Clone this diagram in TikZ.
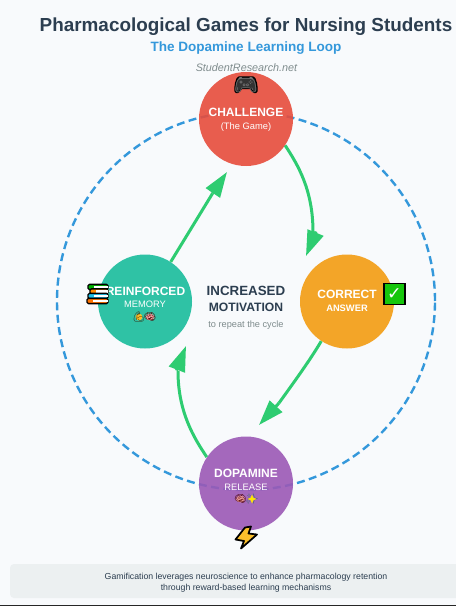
\documentclass[tikz,border=0pt]{standalone}
\usepackage{fontspec}
\setmainfont{Liberation Sans}
\newfontfamily\emojifont{Noto Emoji}
\newfontfamily\checkfont{DejaVu Sans}
\usetikzlibrary{arrows.meta}
\definecolor{bg}{HTML}{F8FAFC}
\definecolor{ink}{HTML}{2C3E50}
\definecolor{blue}{HTML}{3498DB}
\definecolor{gray1}{HTML}{7F8C8D}
\definecolor{flowgreen}{HTML}{2ECC71}
\definecolor{cred}{HTML}{E74C3C}
\definecolor{corange}{HTML}{F39C12}
\definecolor{cpurple}{HTML}{9B59B6}
\definecolor{cteal}{HTML}{1ABC9C}
\definecolor{foot}{HTML}{ECF0F1}
\definecolor{boltc}{HTML}{FBBF2B}
\definecolor{checkc}{HTML}{16C60C}
\newcommand{\fs}[1]{\fontsize{#1}{#1}\selectfont}
\tikzset{
  x=0.75pt,y=-0.75pt,
  stage/.style={circle,minimum size=70.5pt,inner sep=0pt,fill opacity=0.9,draw=none},
  shaft/.style={draw=flowgreen,line width=2.25pt},
  flowhead/.style={draw=flowgreen,line width=2.25pt,-{Triangle[length=19pt,width=12.5pt]}},
  head/.style={text=white,font=\bfseries\fs{9},inner sep=0pt},
  sub/.style={text=white,font=\fs{7},inner sep=0pt},
  small/.style={font=\emojifont\fs{7.5},inner sep=0pt},
  emo/.style={font=\emojifont\fs{14.5},inner sep=0pt},
  centre/.style={text=ink,font=\bfseries\fs{10},inner sep=0pt},
  outl/.style={draw=black,line width=1pt,line join=round},
}
\begin{document}
\begin{tikzpicture}
\useasboundingbox (0,0) rectangle (456,606);
\fill[bg] (0,0) rectangle (456,606);
\node[text=ink,font=\bfseries\fs{14.17},inner sep=0pt] (title) at (246,26.5) {Pharmacological Games for Nursing Students};
\node[text=blue,font=\bfseries\fs{10.15},inner sep=0pt] (subtitle) at (246,48.5) {The Dopamine Learning Loop};
\node[text=gray1,font=\itshape\fs{8.1},inner sep=0pt] (mark) at (246.5,68) {StudentResearch.net};
% dashed loop
\node[circle,minimum size=283.5pt,inner sep=0pt,draw=blue,line width=1.8pt,dash pattern=on 6pt off 3.3pt] (loop) at (246,301) {};
% stages
\node[stage,fill=cred] (challenge) at (246,119) {};
\node[stage,fill=corange] (correct) at (347,301.5) {};
\node[stage,fill=cpurple] (dopamine) at (246,483.5) {};
\node[stage,fill=cteal] (memory) at (145,301.5) {};
% arrow bases and tips
\coordinate (b1) at (316,231.5);
\coordinate (t1) at (306,256);
\coordinate (b2) at (279,403);
\coordinate (t2) at (259,425);
\coordinate (b3) at (176.5,370.5);
\coordinate (t3) at (186,346);
\coordinate (b4) at (212.5,193.5);
\coordinate (t4) at (227,172);
\draw[shaft] (challenge.-34) .. controls (298,165) and (313,190) .. (313,232);
\draw[flowhead] (b1) -- (t1);
\draw[shaft] (correct.-123) .. controls (310,360) and (297,378) .. (b2);
\draw[flowhead] (b2) -- (t2);
\draw[shaft] (dopamine.146) .. controls (194,438) and (178,412) .. (178,371);
\draw[flowhead] (b3) -- (t3);
\draw[shaft] (memory.57) -- (b4);
\draw[flowhead] (b4) -- (t4);
% labels
\node[head] (l1) at (246,112.5) {CHALLENGE};
\node[sub] (l1b) at (246,127.5) {(The Game)};
\node[head] (l2) at (347,294) {CORRECT};
\node[sub,font=\bfseries\fs{7}] (l2b) at (347,308.5) {ANSWER};
\node[head] (l3) at (246,473) {DOPAMINE};
\node[sub] (l3b) at (246,487) {RELEASE};
\node[head] (l4) at (145.5,291) {REINFORCED};
\node[sub] (l4b) at (145,304.5) {MEMORY};
\node[centre] (c1) at (246,290.5) {INCREASED};
\node[centre,font=\bfseries\fs{9.1}] (c2) at (246,307.5) {MOTIVATION};
\node[text=gray1,font=\fs{6.9},inner sep=0pt] (c3) at (246,325) {to repeat the cycle};
% small emoji
\fill[boltc] (139,317) circle (3.4);
\node[small,text=black!80!orange] (e1) at (139,317) {💪};
\fill[pink!90!red] (150,317) ellipse (4.3 and 3.4);
\node[small,text=black!70!red] (e2) at (150,317) {🧠};
\fill[pink!90!red] (240.5,499) ellipse (4.3 and 3.4);
\node[small,text=black!70!red] (e3) at (240.5,499) {🧠};
\node[small,text=black!60!cyan] (e4) at (252,499) {✨};
\fill[yellow!90!orange] (252,494.5) -- (253.3,497.7) -- (256.5,499) -- (253.3,500.3) -- (252,503.5) -- (250.7,500.3) -- (247.5,499) -- (250.7,497.7) -- cycle;
% gamepad
\fill[outl,fill=black!80] (239,77) -- (253,77) .. controls (256,77) and (257.5,88) .. (257,91) .. controls (256,94) and (252.5,92.5) .. (250.5,88.5) -- (241.5,88.5) .. controls (239.5,92.5) and (236,94) .. (235,91) .. controls (234.5,88) and (236,77) .. (239,77) -- cycle;
\node[emo,text=black!55] (game) at (246,85) {🎮};
% books
\foreach \y/\c/\x in {287/green!70!black/88,291.5/orange!90!yellow/90,296/blue!60!cyan/88,301/orange!90!red/87}{
  \fill[outl,fill=\c,rounded corners=1pt] (\x,\y-2.6) rectangle (108,\y+2.6);
  \fill[white] (\x+6,\y-1.3) rectangle (107.5,\y+1.3);
}
% check
\node[rectangle,minimum size=15.6pt,inner sep=0pt,fill=checkc,draw=black,line width=1.1pt] (check) at (394.5,294) {};
\node[text=white,font=\checkfont\bfseries\fs{13},inner sep=0pt] (checkmark) at (394.5,294) {✓};
% bolt
\fill[draw=black,line width=1.3pt,line join=round,fill=boltc] (245,527.5) -- (251,526.5) -- (248.5,533.5) -- (257,534.5) -- (241,548.5) -- (244,541) -- (235.5,539.5) -- cycle;
% footer
\fill[foot] (456,564) [rounded corners=3pt] -- (10,564) -- (10,598) [sharp corners] -- (456,598) -- cycle;
\node[text=ink,font=\fs{6.55},align=center,inner sep=0pt] (note) at (246,582.5) {Gamification leverages neuroscience to enhance pharmacology retention\\[1.7pt]through reward-based learning mechanisms};
\fill[black!85] (0,605) rectangle (456,606);
\end{tikzpicture}
\end{document}
